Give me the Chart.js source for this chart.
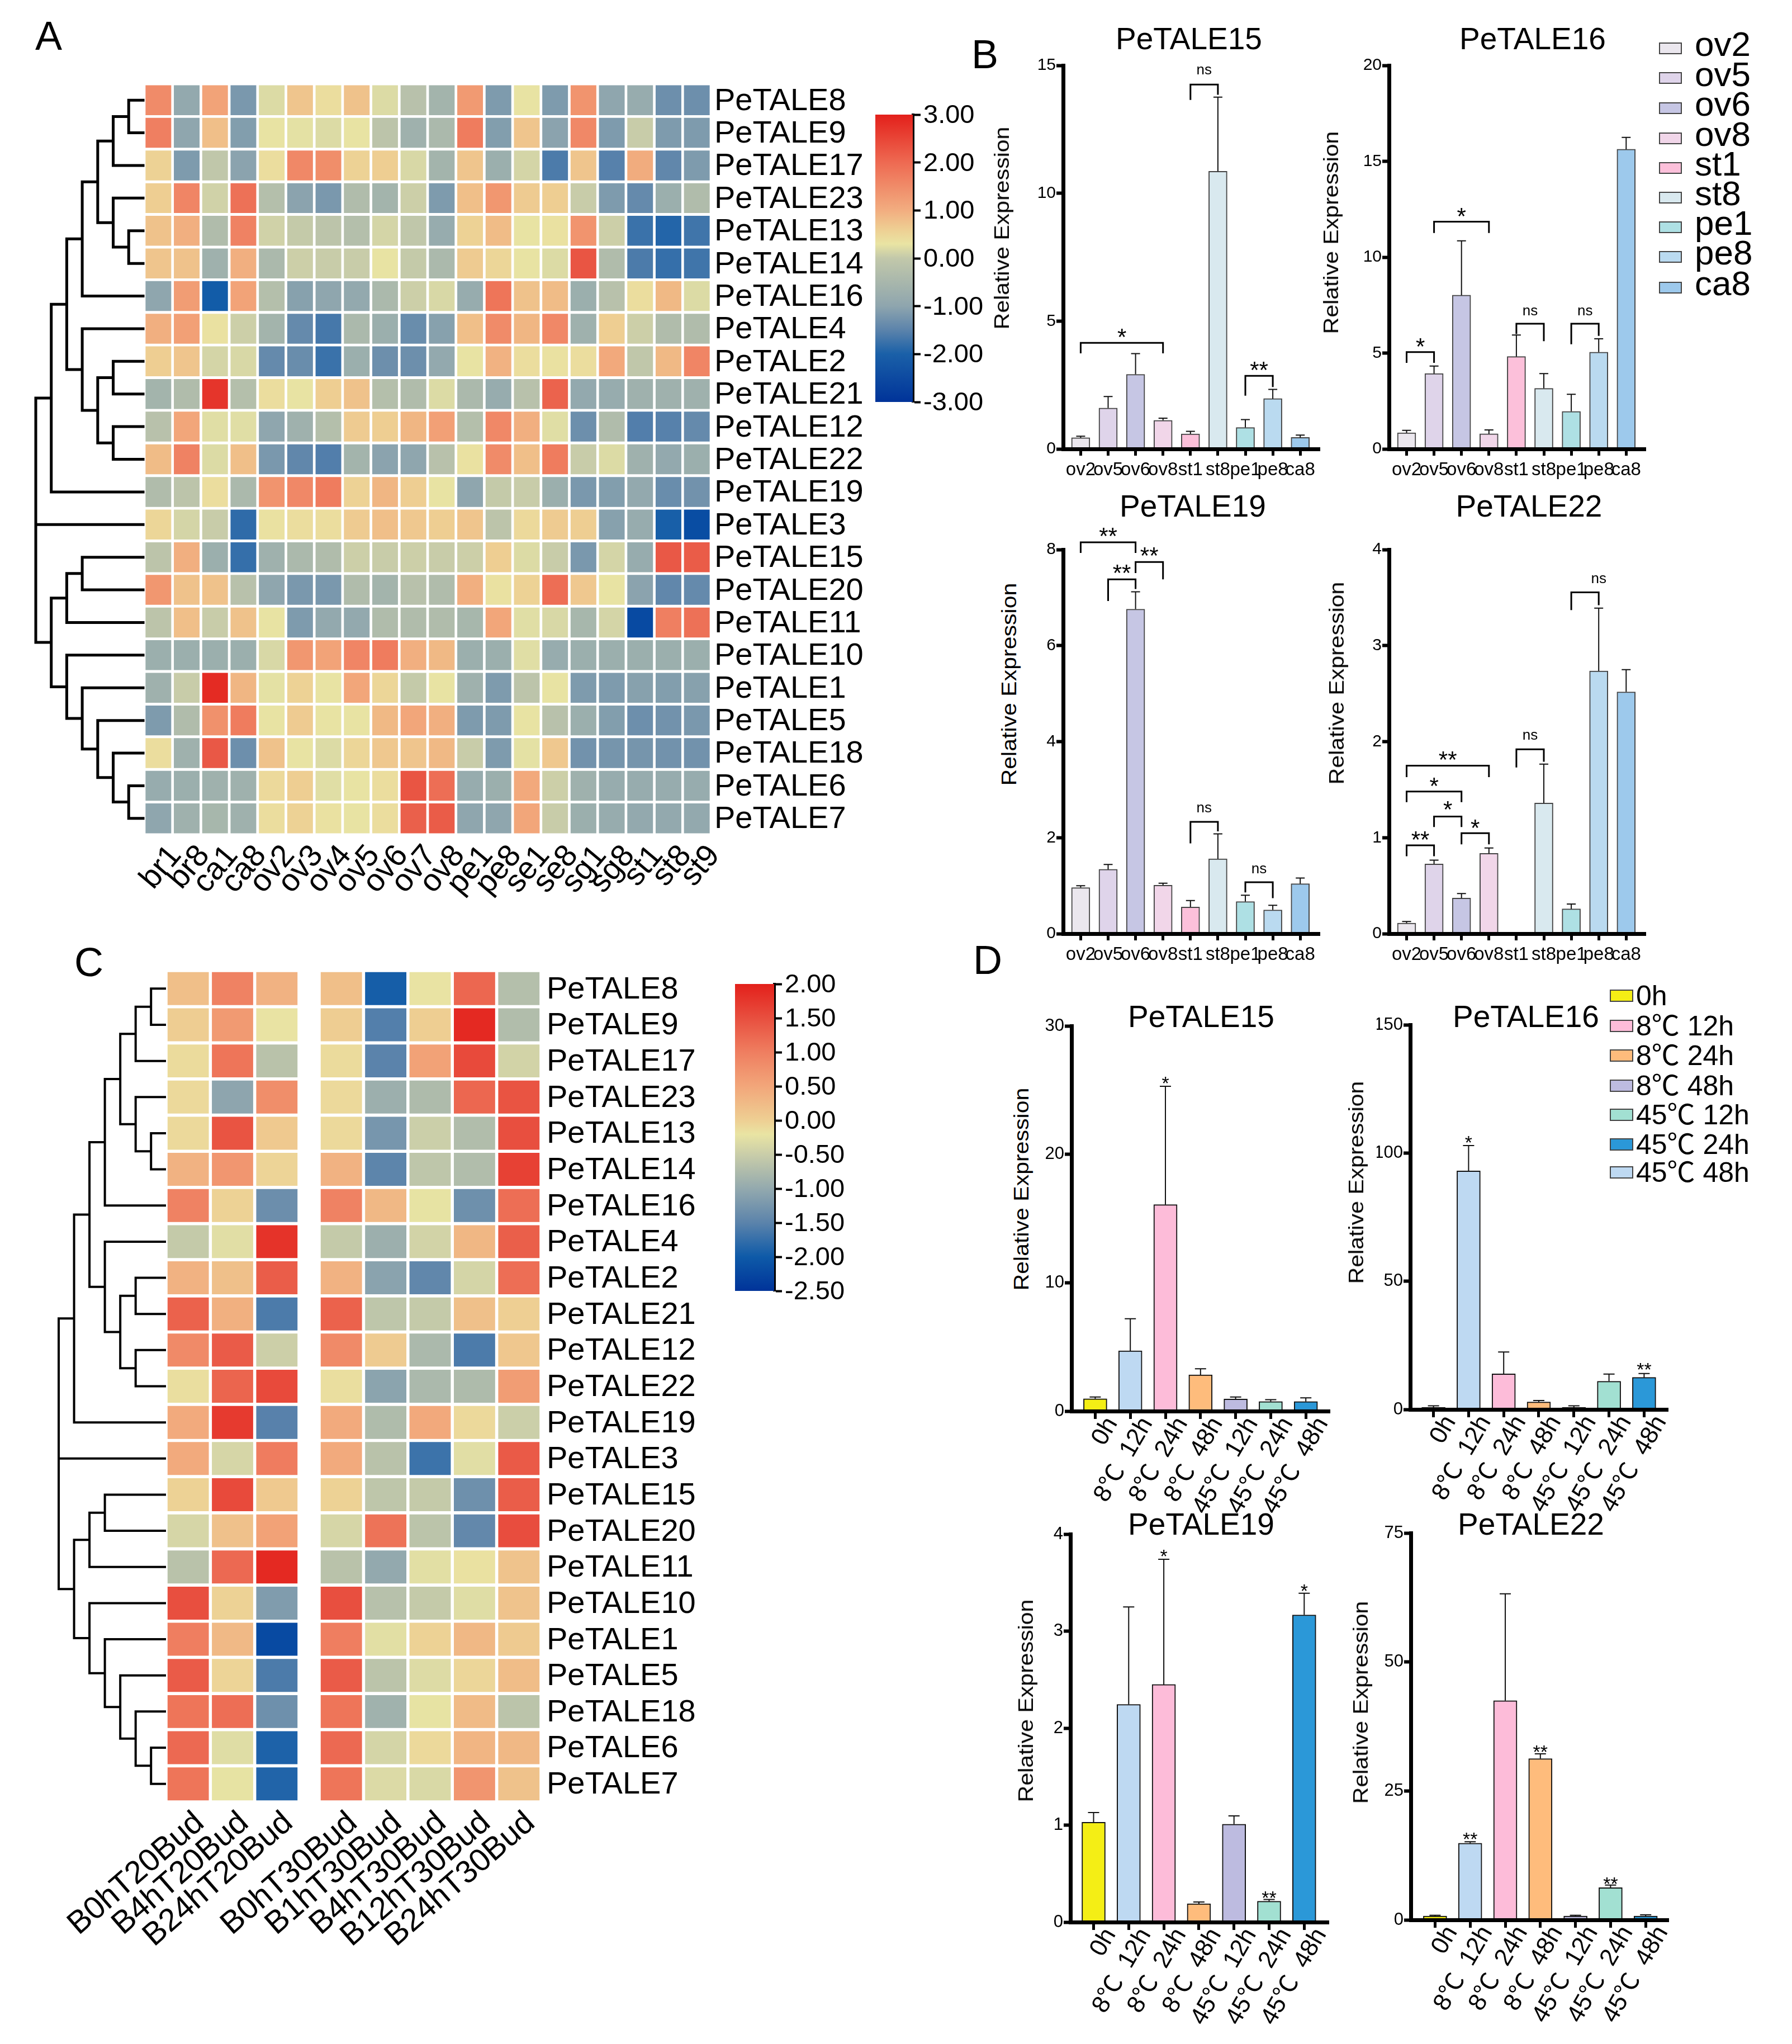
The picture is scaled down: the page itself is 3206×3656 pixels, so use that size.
<!DOCTYPE html>
<html>
<head>
<meta charset="utf-8">
<title>PeTALE expression</title>
<script src="https://cdn.jsdelivr.net/npm/chart.js@4"></script>
<style>
  html, body { margin: 0; padding: 0; background: #fff; }
  #page { position: relative; width: 3206px; height: 3656px; overflow: hidden; background: #fff; }
  #page canvas { position: absolute; }
  .txt { position: absolute; white-space: pre; color: #000; line-height: 1; font-family: "Liberation Sans", "Noto Sans CJK SC", sans-serif; }
  .box { position: absolute; box-sizing: border-box; border: 2px solid #444; }
</style>
</head>
<body>
<div id="page"></div>
<script>
// Heatmap labels
const genes = ['PeTALE8','PeTALE9','PeTALE17','PeTALE23','PeTALE13','PeTALE14','PeTALE16','PeTALE4','PeTALE2','PeTALE21','PeTALE12','PeTALE22','PeTALE19','PeTALE3','PeTALE15','PeTALE20','PeTALE11','PeTALE10','PeTALE1','PeTALE5','PeTALE18','PeTALE6','PeTALE7'];
const organs = ['br1','br8','ca1','ca8','ov2','ov3','ov4','ov5','ov6','ov7','ov8','pe1','pe8','se1','se8','sg1','sg8','st1','st8','st9'];
const samplesT20 = ['B0hT20Bud','B4hT20Bud','B24hT20Bud'];
const samplesT30 = ['B0hT30Bud','B1hT30Bud','B4hT30Bud','B12hT30Bud','B24hT30Bud'];

// Panel A, one row per gene, one value per organ
const organHeat = [
  [1.45,-1,1.05,-1.3,-.1,.5,.15,.55,-.1,-.55,-.8,1.2,-1.25,.05,-1.25,1.3,-1.05,-.95,-1.45,-1.45],
  [1.65,-1.05,.6,-1.2,.05,0,-.1,.05,-.5,-.85,-.7,1.7,-1.2,.5,-1.1,1.5,-1.25,-.35,-1.25,-1.25],
  [.3,-1.25,-.45,-1.1,.15,1.5,1.4,.3,.35,-.15,-.8,.5,-.9,-.2,-1.8,.5,-1.7,.9,-1.6,-1.25],
  [.35,1.55,-.25,1.85,-.6,-1.1,-1.3,-.65,-.8,-.3,-1.25,.6,1.25,.4,.35,-.35,-1.25,-1.55,-.9,-.65],
  [.55,.85,-.65,1.6,-.25,-.4,-.5,-.6,-.2,-.45,-.95,.3,.65,.05,.1,1.3,-.3,-1.95,-2.15,-1.9],
  [.5,.55,-.85,.85,-.7,-.3,-.35,-.35,.05,-.4,-.7,.4,.25,.05,-.1,2.25,-.65,-1.8,-2,-1.9],
  [-1.05,1.15,-2.3,1.05,-.6,-1.15,-1.05,-1,-.7,-.3,-.15,-.95,1.8,.55,.65,-.9,-.55,.15,.7,-.1],
  [.85,1.1,.1,-.3,-.8,-1.55,-1.85,-.7,-.9,-1.5,-1.15,.6,1.45,.75,1.5,-.85,.35,-.3,-.65,-.65],
  [.35,.5,-.2,-.15,-1.55,-1.5,-1.95,-.9,-1.45,-1.45,-1,.05,.8,.15,.1,.15,.95,-.45,.7,1.55],
  [-.8,-.65,2.7,-.6,.15,.05,.35,.55,-.6,-.65,-.1,-.7,-.95,-.55,2.05,-1,-.95,-.85,-.85,-.85],
  [-.55,1,-.05,-.05,-1.05,-.85,-.6,.4,.35,.75,1.1,-.6,1.5,.85,-.05,-1.45,-.65,-1.75,-1.7,-1.55],
  [.65,1.6,-.1,.6,-1.3,-1.6,-1.75,-.8,-1.1,-1.05,-.55,.1,1.45,.6,1.7,-.35,-.1,-.85,-1,-.9],
  [-.65,-.5,.15,-.7,1.3,1.5,1.7,.3,.75,.35,.05,-1.05,-.4,-.35,-.9,-1.3,-1.2,-1,-1.5,-1.4],
  [.25,-.2,-.35,-2.05,.1,.15,.15,.4,.6,.45,.35,.5,-.5,.2,.4,.35,-1.15,-.95,-2.25,-2.55],
  [-.5,.85,-.9,-2,-.85,-.7,-.65,-.3,-.35,-.3,-.35,-.3,.35,-.1,-.35,-1.3,-.2,-.95,2.2,2.15],
  [1.25,.55,.55,-.55,-1.05,-1.3,-1.3,-.65,-.8,-.55,-.65,.85,.1,.3,1.9,.45,.05,-1.1,-1.6,-1.55],
  [-.5,.6,-.35,.55,.05,-1.25,-1,-1,-.65,-.65,-.65,-.75,1,-.05,-.15,-.75,-.2,-2.6,1.65,1.85],
  [-.9,-.9,-.9,-.9,-.15,1.25,1.05,1.55,1.7,.85,.7,-.9,-.9,-.05,-.95,-.9,-.9,-.9,-.9,-.9],
  [-.85,-.35,2.85,.75,0,.3,.05,1,.25,-.4,.05,-.85,-1.25,-.5,.05,-1.25,-1.25,-1.15,-1.2,-1.15],
  [-1.25,-.65,1.35,1.7,.05,.4,.05,.05,.7,1,.85,-1.25,-1.25,.05,-.55,-.9,-1.2,-1.45,-1.4,-1.3],
  [.15,-.85,2.2,-1.45,.55,.05,-.1,.25,.45,.5,.7,-.35,-1.25,0,.45,-1.4,-1.35,-1.35,-1.4,-1.4],
  [-.95,-.9,-.85,-.85,.2,.35,-.05,.05,.15,2.25,1.9,-.95,-.9,.95,-.3,-.85,-.95,-.95,-.95,-.95],
  [-1.05,-.85,-.75,-.85,.15,.3,.1,.05,.15,2.1,2.15,-1.05,-1.05,1,-.35,-.9,-.95,-1,-1,-1]
];

// Panel C, left block (T20)
const heatT20 = [
  [.2,.95,.35],[.03,.65,-.2],[-.12,1.1,-.65],[-.1,-1.05,.8],[-.1,1.45,.08],[.35,.7,-.05],
  [.95,-.03,-1.35],[-.55,-.28,1.8],[.35,.18,1.35],[1.3,.38,-1.6],[.85,1.37,-.47],[-.15,1.27,1.55],
  [.45,1.72,-1.52],[.45,-.38,1.02],[-.03,1.55,.08],[-.38,.17,.55],[-.65,1.22,1.9],[1.5,-.03,-1.17],
  [1,.27,-2.2],[1.37,-.05,-1.6],[1.1,1.17,-1.33],[1.22,-.3,-1.9],[1.1,-.22,-1.88]
];
// Panel C, right block (T30)
const heatT30 = [
  [.2,-1.95,-.2,1.25,-.7],[.03,-1.55,.02,1.9,-.72],[-.12,-1.5,.55,1.55,-.42],[-.1,-.92,-.75,1.25,1.45],
  [-.1,-1.25,-.48,-.72,1.5],[.35,-1.48,-.6,-.72,1.65],[.95,.28,-.22,-1.33,1.17],[-.55,-.92,-.42,.3,1.33],
  [.35,-1.08,-1.45,-.4,1.17],[1.3,-.6,-.55,.18,0],[.85,.05,-.78,-1.6,.1],[-.15,-1.07,-.78,-.75,.62],
  [.45,-.74,.47,-.1,-.48],[.45,-.65,-1.7,-.28,1.38],[-.03,-.6,-.55,-1.33,1.35],[-.38,1.12,-.63,-1.43,1.52],
  [-.65,-1,-.27,-.18,.15],[1.5,-.67,-.55,-.3,.15],[1,-.27,-.03,.28,.06],[1.37,-.63,-.32,-.07,.22],
  [1.1,-.88,-.22,.25,-.63],[1.22,-.4,-.1,.32,.28],[1.1,-.33,-.35,.72,.16]
];

// Clustering of the genes: [level, child, child, ...], a plain number is a row
const geneTree = [0,
  [1,
    [2,
      [3, [4, [5, [6, 0, 1], 2], [5, 3, [6, 4, 5]]], 6],
      [3, 7, [4, [5, 8, 9], [5, 10, 11]]]
    ],
    12
  ],
  13,
  [1,
    [2, [3, 14, 15], 16],
    [2, 17, [3, 18, [4, 19, [5, 20, [6, 21, 22]]]]]
  ]
];

// Panel B
const tissues = ['ov2','ov5','ov6','ov8','st1','st8','pe1','pe8','ca8'];
const tissueColors = ['#ebe7ee','#dfd4ea','#c6c6e4','#f1d6e9','#fcc0da','#d9e9ef','#aee0e4','#badaf0','#9dc9ec'];
const tissue15 = [.44,1.6,2.92,1.12,.59,10.86,.84,1.97,.45];
const tissue15Top = [.5,2.05,3.73,1.2,.69,13.76,1.15,2.33,.54];
const tissue16 = [.84,3.93,8.02,.79,4.82,3.16,1.96,5.05,15.63];
const tissue16Top = [.97,4.32,10.85,.99,5.94,3.93,2.85,5.74,16.25];
const tissue19 = [.96,1.34,6.76,1.01,.555,1.56,.67,.495,1.04];
const tissue19Top = [1,1.44,7.12,1.05,.69,2.08,.8,.59,1.16];
const tissue22 = [.11,.726,.37,.836,0,1.36,.258,2.736,2.518];
const tissue22Top = [.127,.766,.418,.893,0,1.766,.308,3.39,2.75];

// Brackets: from, to, top, left leg end, right leg end, label, label height, label shift
const brackets15 = [[0,3,4.15,3.74,3.74,'*',4.6],[4,5,14.25,13.65,13.85,'ns',14.8],[6,7,2.86,2.08,2.42,'**',3.3]];
const brackets16 = [[0,1,5.05,4.49,4.49,'*',5.65],[1,3,11.85,11.26,11.26,'*',12.43],[4,5,6.53,5.99,5.62,'ns',7.16],[6,7,6.53,5.46,5.9,'ns',7.16]];
const brackets19 = [[0,2,8.15,7.93,7.93,'**',8.4],[2,3,7.74,7.51,7.38,'**',7.99],[1,2,7.38,6.93,7.18,'**',7.63],[4,5,2.33,1.88,2.13,'ns',2.61],[6,7,1.07,.86,.74,'ns',1.34]];
const brackets22 = [[0,3,1.75,1.63,1.63,'**',1.87],[0,2,1.48,1.37,1.37,'*',1.6],[1,2,1.22,1.11,1.11,'*',1.35],[2,3,1.047,.93,.93,'*',1.16],[0,1,.92,.806,.806,'**',1.04],[4,5,1.92,1.73,1.79,'ns',2.06],[6,7,3.555,3.37,3.42,'ns',3.69,.5]];

// Panel D
const treatments = ['0h','8℃ 12h','8℃ 24h','8℃ 48h','45℃ 12h','45℃ 24h','45℃ 48h'];
const treatmentTicks = ['0h','8℃  12h','8℃  24h','8℃  48h','45℃  12h','45℃  24h','45℃  48h'];
const treatmentColors = ['#f4ee15','#bed9f2','#fdbcd9','#febc7c','#bdbbe0','#a2e0d2','#2b98d8'];
const legendColorsD = ['#f4ee15','#fdbcd9','#febc7c','#bdbbe0','#a2e0d2','#2b98d8','#bed9f2'];
const stress15 = [.97,4.7,16.08,2.83,.94,.75,.75];
const stress15Top = [1.1,7.2,25.3,3.3,1.1,.89,1.03];
const stress16 = [.8,93,13.9,2.9,.8,11,12.5];
const stress16Top = [1.4,102.9,22.4,3.5,1.4,13.8,14];
const stress19 = [1.03,2.245,2.45,.19,1.01,.215,3.167];
const stress19Top = [1.13,3.25,3.74,.207,1.095,.233,3.39];
const stress22 = [.76,14.87,42.5,31.27,.76,6.25,.76];
const stress22Top = [.9,15.15,63.2,32.2,.9,6.74,.97];
// Stars over a bar: index, label, height
const stars15 = [[2,'*',25.9]];
const stars16 = [[1,'*',106],[6,'**',17.4]];
const stars19 = [[2,'*',3.82],[6,'*',3.46],[5,'**',.3]];
const stars22 = [[1,'**',16.5],[3,'**',33.5],[5,'**',7.85]];

const fontFamily = '"Liberation Sans", "Noto Sans CJK SC", sans-serif';
Chart.defaults.font.family = fontFamily;
Chart.defaults.color = '#000';
Chart.defaults.animation = false;

const page = document.getElementById('page');

// Colour ramp of the cells, position on the bar -> colour
const rampStops = [[0,'#003399'],[.111,'#0e5aa8'],[.222,'#5b83ab'],[.333,'#93a9ae'],[.444,'#c9cda9'],[.51,'#e9e4a3'],[.556,'#eecf93'],[.667,'#f2a67a'],[.778,'#ef7e60'],[.889,'#e84f3f'],[1,'#e3201b']];
// The bar of panel A has its yellow a little higher up
const rampStopsBarA = [[0,'#003399'],[.167,'#1a60a8'],[.25,'#5b83ab'],[.333,'#8ea5ae'],[.5,'#c2c8aa'],[.55,'#e9e4a3'],[.6,'#eecf93'],[.667,'#f2ad80'],[.833,'#ee6a52'],[1,'#e3201b']];

function rampColor(t) {
  t = Math.min(1, Math.max(0, t));
  let i = 1;
  while (i < rampStops.length - 1 && rampStops[i][0] < t) i++;
  const [t0, c0] = rampStops[i - 1];
  const [t1, c1] = rampStops[i];
  const k = (t - t0) / (t1 - t0);
  const mix = p => Math.round(parseInt(c0.substr(p, 2), 16) * (1 - k) + parseInt(c1.substr(p, 2), 16) * k);
  return `rgb(${mix(1)},${mix(3)},${mix(5)})`;
}

// Makes the canvas so that the plot area lands exactly on area.
// A shown axis takes its whole margin as its box, other sides become padding.
function addChart(area, margin, config) {
  const canvas = document.createElement('canvas');
  const w = area.r - area.l + margin.left + margin.right;
  const h = area.b - area.t + margin.top + margin.bottom;
  canvas.width = Math.round(w);
  canvas.height = Math.round(h);
  canvas.style.left = (area.l - margin.left) + 'px';
  canvas.style.top = (area.t - margin.top) + 'px';
  canvas.style.width = Math.round(w) + 'px';
  canvas.style.height = Math.round(h) + 'px';
  page.appendChild(canvas);

  const padding = { ...margin };
  const scales = config.options.scales;
  Object.values(scales).forEach(scale => {
    if (scale.display === false) return;
    const side = scale.position || (scale === scales.x ? 'bottom' : 'left');
    padding[side] = 0;
    scale.afterFit = s => {
      if (s.isHorizontal()) s.height = margin[side]; else s.width = margin[side];
      s.paddingLeft = s.paddingRight = s.paddingTop = s.paddingBottom = 0;
    };
  });
  config.options = Object.assign({
    responsive: false,
    devicePixelRatio: 1,
    animation: false,
    events: [],
    layout: { padding },
  }, config.options);
  config.options.plugins = Object.assign({ legend: { display: false }, tooltip: { enabled: false }, title: { display: false } }, config.options.plugins);
  return new Chart(canvas.getContext('2d'), config);
}

function addText(text, x, y, size, opts = {}) {
  const el = document.createElement('div');
  el.className = 'txt';
  el.textContent = text;
  el.style.left = x + 'px';
  el.style.top = y + 'px';
  el.style.fontSize = size + 'px';
  const shift = opts.left ? 'translate(0,-50%)' : 'translate(-50%,-50%)';
  el.style.transform = `${shift} rotate(${opts.rot || 0}deg) scaleX(${opts.stretch || 1})`;
  page.appendChild(el);
}

// Heatmap: each row is a set of floating bars on the row axis
function heatmap(area, margin, columns, rows, matrix, range, look) {
  const half = look.cellHeight / 2;
  const datasets = matrix.map((row, r) => ({
    data: row.map(() => [r - half, r + half]),
    backgroundColor: row.map(v => rampColor((v - range[0]) / (range[1] - range[0]))),
    borderWidth: 0,
    grouped: false,
    barPercentage: look.cellWidth,
    categoryPercentage: 1,
  }));
  addChart(area, margin, {
    type: 'bar',
    data: { labels: columns, datasets },
    options: {
      scales: {
        x: {
          type: 'category', offset: true,
          grid: { display: false, drawTicks: false }, border: { display: false },
          ticks: { autoSkip: false, minRotation: look.rot, maxRotation: look.rot, font: { size: look.colFont }, labelOffset: look.labelOffset, padding: look.labelPad },
        },
        y: {
          type: 'linear', position: 'right', reverse: true, min: -.5, max: genes.length - .5,
          display: rows != null,
          afterBuildTicks: s => { s.ticks = genes.map((g, i) => ({ value: i })); },
          grid: { display: false, drawTicks: false }, border: { display: false },
          ticks: { autoSkip: false, font: { size: 56 }, padding: look.rowPad, labelOffset: 2, callback: v => genes[v] },
        },
      },
    },
  });
}

// Walks the tree and returns line pieces, NaN points break the line
function treePoints(node, leafLevel, out) {
  if (typeof node === 'number') return { level: leafLevel, y: node };
  const kids = node.slice(1).map(k => treePoints(k, leafLevel, out));
  const level = node[0];
  const y0 = kids[0].y, y1 = kids[kids.length - 1].y;
  out.push({ x: level, y: y0 }, { x: level, y: y1 }, { x: NaN, y: NaN });
  kids.forEach(k => out.push({ x: level, y: k.y }, { x: k.level, y: k.y }, { x: NaN, y: NaN }));
  return { level, y: (y0 + y1) / 2 };
}

function dendrogram(area, leafLevel, lineWidth) {
  const points = [];
  treePoints(geneTree, leafLevel, points);
  addChart(area, { left: 8, right: 8, top: 8, bottom: 8 }, {
    type: 'scatter',
    data: { datasets: [{ data: points, showLine: true, spanGaps: false, pointRadius: 0, borderColor: '#000', borderWidth: lineWidth, borderCapStyle: 'square', clip: false }] },
    options: {
      scales: {
        x: { type: 'linear', min: 0, max: leafLevel, display: false },
        y: { type: 'linear', reverse: true, min: -.5, max: genes.length - .5, display: false },
      },
    },
  });
}

function colorBar(area, range, step, fontSize, stops) {
  addChart(area, { left: 6, right: 150, top: 40, bottom: 40 }, {
    type: 'bar',
    data: {
      labels: [''],
      datasets: [{
        data: [range],
        barPercentage: 1, categoryPercentage: 1, borderWidth: 0,
        backgroundColor: ctx => {
          const a = ctx.chart.chartArea;
          if (!a) return '#888';
          const g = ctx.chart.ctx.createLinearGradient(0, a.bottom, 0, a.top);
          stops.forEach(([t, c]) => g.addColorStop(t, c));
          return g;
        },
      }],
    },
    options: {
      scales: {
        x: { display: false },
        y: {
          type: 'linear', position: 'right', min: range[0], max: range[1],
          grid: { drawOnChartArea: false, tickLength: 14, tickWidth: 4, tickColor: '#000' },
          border: { color: '#000', width: 5 },
          ticks: { stepSize: step, font: { size: fontSize }, padding: 5, labelOffset: 2, callback: v => v.toFixed(2) },
        },
      },
    },
  });
}

// Whiskers, brackets and stars are read through the chart scales
function marksPlugin(tops, values, brackets, stars, look) {
  return {
    id: 'marks',
    afterDatasetsDraw(chart) {
      const { ctx, scales: { x, y } } = chart;
      ctx.save();
      ctx.strokeStyle = '#111';
      ctx.fillStyle = '#000';
      ctx.lineWidth = 2;
      tops.forEach((top, i) => {
        if (!top) return;
        const px = x.getPixelForValue(i);
        ctx.beginPath();
        ctx.moveTo(px, y.getPixelForValue(values[i]));
        ctx.lineTo(px, y.getPixelForValue(top));
        ctx.moveTo(px - look.cap / 2, y.getPixelForValue(top));
        ctx.lineTo(px + look.cap / 2, y.getPixelForValue(top));
        ctx.stroke();
      });
      ctx.textAlign = 'center';
      ctx.textBaseline = 'alphabetic';
      const writeMark = (text, px, value) => {
        const py = y.getPixelForValue(value);
        if (text === 'ns') {
          ctx.font = `26px ${fontFamily}`;
          ctx.fillText(text, px, py + 7);
        } else {
          ctx.font = `${look.starFont}px ${fontFamily}`;
          ctx.fillText(text, px, py + look.starFont * .58);
        }
      };
      ctx.lineWidth = 3;
      ctx.strokeStyle = '#000';
      brackets.forEach(([from, to, top, legL, legR, text, labelY, shift = 0]) => {
        const x0 = x.getPixelForValue(from), x1 = x.getPixelForValue(to);
        ctx.beginPath();
        ctx.moveTo(x0, y.getPixelForValue(legL));
        ctx.lineTo(x0, y.getPixelForValue(top));
        ctx.lineTo(x1, y.getPixelForValue(top));
        ctx.lineTo(x1, y.getPixelForValue(legR));
        ctx.stroke();
        writeMark(text, x.getPixelForValue((from + to) / 2 + shift), labelY);
      });
      stars.forEach(([i, text, labelY]) => writeMark(text, x.getPixelForValue(i), labelY));
      ctx.restore();
    },
  };
}

function barPanel(area, labels, values, tops, colors, yMax, yStep, brackets, stars, look) {
  const band = look.band;
  const minX = (area.l - look.firstX) / band;
  const maxX = (area.r - look.firstX) / band;
  addChart(area, look.margin, {
    type: 'bar',
    data: {
      datasets: [{
        data: values.map((v, i) => ({ x: i, y: v })),
        backgroundColor: colors,
        borderColor: look.barEdge,
        borderWidth: 2,
        borderSkipped: false,
        barThickness: look.barWidth,
      }],
    },
    options: {
      scales: {
        x: {
          type: 'linear', min: minX, max: maxX, offset: false,
          afterBuildTicks: s => { s.ticks = labels.map((l, i) => ({ value: i })); },
          grid: { offset: false, drawOnChartArea: false, tickLength: look.xTick, tickWidth: 5, tickColor: '#000', z: 1 },
          border: { color: '#000', width: 7, z: 1 },
          ticks: { autoSkip: false, minRotation: look.rot, maxRotation: look.rot, font: { size: look.xFont }, padding: look.xPad, labelOffset: look.xOffset, callback: v => labels[v] },
        },
        y: {
          type: 'linear', min: 0, max: yMax,
          grid: { drawOnChartArea: false, tickLength: 12, tickWidth: 6, tickColor: '#000', z: 1 },
          border: { color: '#000', width: 7, z: 1 },
          ticks: { stepSize: yStep, font: { size: look.yFont }, padding: 1 },
        },
      },
    },
    plugins: [marksPlugin(tops, values, brackets, stars, look)],
  });
}

// ---- Panel A ----
const lookA = { cellHeight: .916, cellWidth: .907, rot: 50, colFont: 56, labelOffset: 31, labelPad: 6, rowPad: 6 };
heatmap({ l: 257.65, r: 1271.65, t: 149.55, b: 1492.75 }, { left: 140, right: 330, top: 6, bottom: 150 }, organs, genes, organHeat, [-3, 3], lookA);
dendrogram({ l: 64, r: 256, t: 149.55, b: 1492.75 }, 6.93, 5);
colorBar({ l: 1566, r: 1633, t: 205, b: 719 }, [-3, 3], 1, 47, rampStopsBarA);

// ---- Panel C ----
const lookC = { cellHeight: .912, cellWidth: .93, rot: 41, colFont: 57, labelOffset: 21, labelPad: 4, rowPad: 10 };
const marginC = { left: 260, right: 330, top: 6, bottom: 280 };
heatmap({ l: 297.4, r: 535.6, t: 1736.2, b: 3223.2 }, marginC, samplesT20, null, heatT20, [-2.5, 2], lookC);
heatmap({ l: 571.4, r: 968.4, t: 1736.2, b: 3223.2 }, marginC, samplesT30, genes, heatT30, [-2.5, 2], lookC);
dendrogram({ l: 105, r: 295, t: 1736.2, b: 3223.2 }, 6.9, 4);
colorBar({ l: 1315, r: 1385, t: 1760, b: 2309 }, [-2.5, 2], .5, 47, rampStops);

// ---- Panel B ----
const lookB = { band: 49.1, barWidth: 33, barEdge: '#444', cap: 16, rot: 0, xFont: 33, xTick: 12, xPad: 6, xOffset: 0, yFont: 30, starFont: 42,
  margin: { left: 50, right: 40, top: 90, bottom: 70 } };
barPanel({ l: 1902, r: 2361, t: 116.5, b: 802.5 }, tissues, tissue15, tissue15Top, tissueColors, 15, 5, brackets15, [], { ...lookB, firstX: 1933.4 });
barPanel({ l: 2485, r: 2944, t: 116.5, b: 802.5 }, tissues, tissue16, tissue16Top, tissueColors, 20, 5, brackets16, [], { ...lookB, firstX: 2516.5 });
barPanel({ l: 1902, r: 2361, t: 983.2, b: 1669.7 }, tissues, tissue19, tissue19Top, tissueColors, 8, 2, brackets19, [], { ...lookB, firstX: 1933.4 });
barPanel({ l: 2485, r: 2944, t: 983.2, b: 1669.7 }, tissues, tissue22, tissue22Top, tissueColors, 4, 1, brackets22, [], { ...lookB, firstX: 2516.5 });

// ---- Panel D ----
const lookD = { band: 62.8, barWidth: 42, barEdge: '#111', cap: 20, rot: 60, xFont: 44, xTick: 14, xPad: -12, xOffset: 30, yFont: 31, starFont: 34,
  margin: { left: 60, right: 50, top: 40, bottom: 220 } };
barPanel({ l: 1917, r: 2379, t: 1834.6, b: 2523.3 }, treatmentTicks, stress15, stress15Top, treatmentColors, 30, 10, [], stars15, { ...lookD, firstX: 1959.4 });
barPanel({ l: 2523, r: 2984, t: 1832.7, b: 2520.8 }, treatmentTicks, stress16, stress16Top, treatmentColors, 150, 50, [], stars16, { ...lookD, firstX: 2564.6 });
barPanel({ l: 1915, r: 2377, t: 2744.3, b: 3437.9 }, treatmentTicks, stress19, stress19Top, treatmentColors, 4, 1, [], stars19, { ...lookD, firstX: 1956.5 });
barPanel({ l: 2524, r: 2985, t: 2742.4, b: 3434.7 }, treatmentTicks, stress22, stress22Top, treatmentColors, 75, 25, [], stars22, { ...lookD, firstX: 2567.4 });

// ---- Text around the charts ----
addText('A', 87, 64, 72);
addText('B', 1762, 97, 72);
addText('C', 159, 1721, 72);
addText('D', 1767, 1717, 72);

addText('PeTALE15', 2127, 69, 55);
addText('PeTALE16', 2742, 69, 55);
addText('PeTALE19', 2134, 904.5, 55);
addText('PeTALE22', 2735.5, 904.5, 55);
addText('PeTALE15', 2149, 1818, 55);
addText('PeTALE16', 2730, 1818, 55);
addText('PeTALE19', 2149, 2726, 55);
addText('PeTALE22', 2739, 2726, 55);

const axisTitle = 'Relative Expression';
[[1793, 408], [2382, 416], [1806, 1224], [2392, 1221.6], [1828, 2127], [2427, 2114.5], [1836, 3042], [2435, 3044.6]].forEach(([x, y]) => {
  addText(axisTitle, x, y, 36, { rot: -90, stretch: 1.14 });
});

// Legends
function addLegend(names, colors, swatchX, swatchW, swatchH, textX, font, textShift, centers) {
  names.forEach((name, i) => {
    const sw = document.createElement('div');
    sw.className = 'box';
    sw.style.left = swatchX + 'px';
    sw.style.top = (centers[i] - swatchH / 2) + 'px';
    sw.style.width = swatchW + 'px';
    sw.style.height = swatchH + 'px';
    sw.style.background = colors[i];
    page.appendChild(sw);
    addText(name, textX, centers[i] + textShift, font, { left: true });
  });
}
addLegend(tissues, tissueColors, 2968, 41, 21, 3032, 62, -7, [86, 139.5, 193, 247, 300, 353, 406, 459, 514]);
addLegend(treatments, legendColorsD, 2880, 42, 22, 2927, 50, 0, [1781, 1835, 1888, 1942, 1994, 2047, 2097]);
</script>
</body>
</html>
